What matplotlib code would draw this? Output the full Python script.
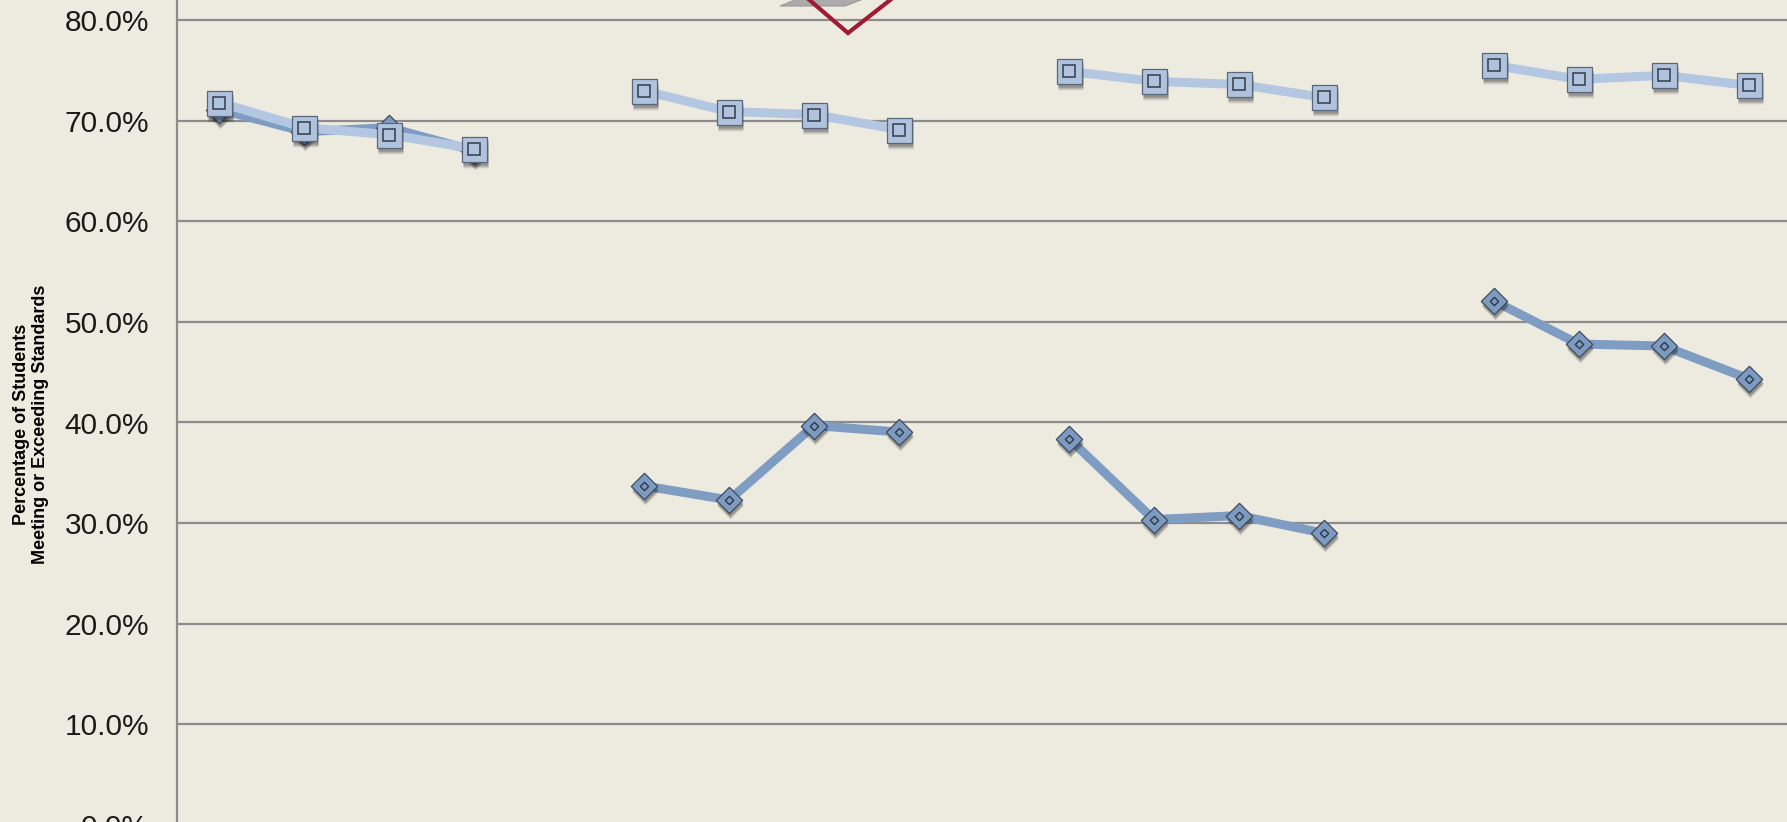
import numpy as np
import matplotlib
matplotlib.use('Agg')
import matplotlib.pyplot as plt
import matplotlib.transforms as mtransforms
from matplotlib import font_manager
from matplotlib.lines import Line2D
from matplotlib.patches import Polygon

nan = np.nan

# 4 groups of 4 periods, one empty category between groups
categories = list(range(19))
pct_squares = [71.8, 69.3, 68.6, 67.2, nan,
               72.95, 70.9, 70.6, 69.1, nan,
               74.9, 73.9, 73.6, 72.3, nan,
               75.5, 74.1, 74.5, 73.5]
pct_diamonds = [71.1, 68.9, 69.3, 67.0, nan,
                33.7, 32.3, 39.7, 39.05, nan,
                38.4, 30.35, 30.75, 29.0, nan,
                52.1, 47.8, 47.6, 44.35]
yticks = [0, 10, 20, 30, 40, 50, 60, 70, 80]

W, H = 1787, 822
bg = '#EDEBE0'

fig = plt.figure(figsize=(W / 100, H / 100), dpi=100, facecolor=bg)
# plot area is cropped by the picture: right and bottom run past the edge
left, right = 177, 1791
y0_px, y80_px = 825, 20
top_val = 90
px_per_pct = (y0_px - y80_px) / 80
top_px = y0_px - top_val * px_per_pct
ax = fig.add_axes([left / W, (H - y0_px) / H, (right - left) / W, (y0_px - top_px) / H])
ax.set_facecolor(bg)
ax.set_xlim(-0.5, 18.5)
ax.set_ylim(0, top_val)

ax.set_yticks(yticks)
ax.set_yticklabels(['%.1f%%' % v for v in yticks], fontsize=21.5, color='#1a1a1a',
                   family='Liberation Sans')
ax.tick_params(axis='y', length=0, pad=20)
ax.set_xticks([])
ax.grid(axis='y', color='#8c8c8c', linewidth=1.6)
ax.set_axisbelow(True)
for s in ['top', 'right', 'bottom']:
    ax.spines[s].set_visible(False)
ax.spines['left'].set_color('#8c8c8c')
ax.spines['left'].set_linewidth(1.6)

x = np.array(categories)


def shadow(dx, dy):
    return mtransforms.offset_copy(ax.transData, fig=fig, x=dx, y=dy, units='dots')


diamond = (4, 0, 0)

# diamond series (drawn first, sits underneath)
ax.plot(x, pct_diamonds, color='#7F9DC2', lw=6.5, solid_capstyle='butt', zorder=3)
for a, d in [(0.08, 6), (0.10, 5), (0.12, 4), (0.14, 3)]:
    ax.plot(x, pct_diamonds, ls='none', marker=diamond, ms=19, mfc='black', mec='none',
            alpha=a, transform=shadow(1, -d), zorder=3.5)
ax.plot(x, pct_diamonds, ls='none', marker=diamond, ms=19, mfc='#7D9BC1',
        mec='#3E4A5C', mew=0.9, zorder=4)
ax.plot(x, pct_diamonds, ls='none', marker=diamond, ms=6, mfc='none',
        mec='#2F3845', mew=1.0, zorder=4.5)

# square series
ax.plot(x, pct_squares, color='#B3C7E2', lw=6.5, solid_capstyle='butt', zorder=5)
for a, d in [(0.08, 6), (0.10, 5), (0.12, 4), (0.14, 3)]:
    ax.plot(x, pct_squares, ls='none', marker='s', ms=18, mfc='black', mec='none',
            alpha=a, transform=shadow(1, -d), zorder=5.5)
ax.plot(x, pct_squares, ls='none', marker='s', ms=18, mfc='#B0C3DE',
        mec='#5A6779', mew=0.9, zorder=6)
ax.plot(x, pct_squares, ls='none', marker='s', ms=8.5, mfc='none',
        mec='#333B46', mew=1.1, zorder=6.5)


def fp(px, py):
    return px / W, 1 - py / H


# partially visible piece at the top edge (cropped above the picture)
fig.add_artist(Polygon([fp(780, 6), fp(845, 6), fp(866, -2), fp(800, -2)],
                       closed=True, transform=fig.transFigure,
                       facecolor='#ABABAB', edgecolor='#999999', lw=0.8, zorder=7))
vx, vy = zip(fp(806, -3), fp(848, 33), fp(894, -3))
fig.add_artist(Line2D(vx, vy, transform=fig.transFigure, color='#A11A33', lw=3,
                      solid_joinstyle='miter', zorder=8))

# condensed bold label; fall back to regular width with a smaller size
names = {f.name for f in font_manager.fontManager.ttflist}
if 'Liberation Sans Narrow' in names:
    lab_family, lab_size = 'Liberation Sans Narrow', 15.5
else:
    lab_family, lab_size = 'Liberation Sans', 13

fig.text(31 / W, 1 - 424 / H, 'Percentage of Students\nMeeting or Exceeding Standards',
         rotation=90, ha='center', va='center', fontsize=lab_size, fontweight='bold',
         family=lab_family, linespacing=1.2, color='black')

fig.savefig('out.png', dpi=100, facecolor=bg)
